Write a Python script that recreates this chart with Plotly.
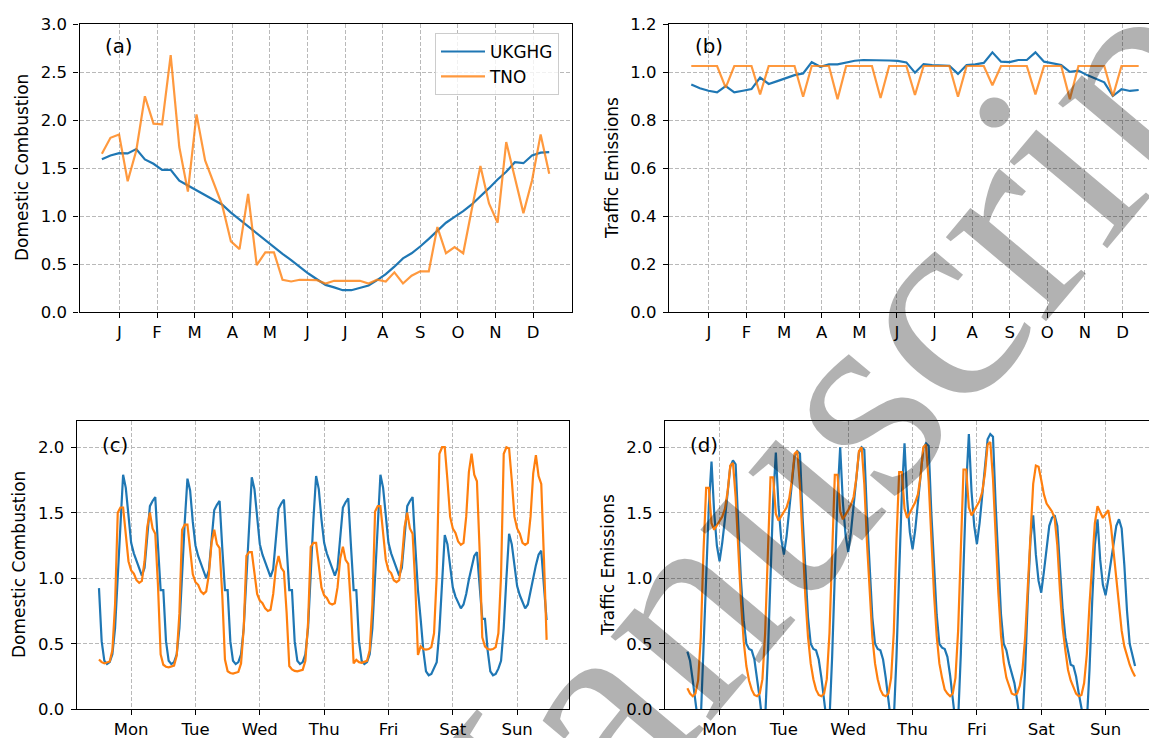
import plotly.graph_objects as go

# ---------------- weekly data (panels a, b) ----------------
week_days = list(range(0, 365, 7))          # 53 weekly samples (day of year)
month_labels = ["J", "F", "M", "A", "M", "J", "J", "A", "S", "O", "N", "D"]
month_ticks = [14.3 + 30.6 * k for k in range(12)]

dom_ukghg_weekly = [1.59, 1.63, 1.655, 1.652, 1.697, 1.59, 1.544, 1.481, 1.481, 1.369, 1.317, 1.265, 1.213,
                    1.167, 1.118, 1.035, 0.962, 0.889, 0.819, 0.749, 0.676, 0.606, 0.540, 0.467, 0.401, 0.341,
                    0.282, 0.256, 0.227, 0.227, 0.255, 0.276, 0.332, 0.395, 0.472, 0.559, 0.612, 0.682, 0.762,
                    0.85, 0.93, 0.99, 1.05, 1.12, 1.20, 1.29, 1.38, 1.46, 1.56, 1.55, 1.63, 1.66, 1.665]
dom_tno_weekly = [1.648, 1.815, 1.85, 1.362, 1.683, 2.247, 1.962, 1.955, 2.676, 1.718, 1.254, 2.059, 1.578,
                  1.334, 1.108, 0.735, 0.655, 1.23, 0.488, 0.622, 0.622, 0.336, 0.318, 0.336, 0.332, 0.332,
                  0.297, 0.325, 0.325, 0.325, 0.325, 0.297, 0.336, 0.318, 0.413, 0.297, 0.378, 0.423, 0.423,
                  0.885, 0.612, 0.675, 0.612, 1.07, 1.52, 1.13, 0.93, 1.77, 1.41, 1.03, 1.37, 1.85, 1.44]
traf_ukghg_weekly = [0.948, 0.932, 0.922, 0.915, 0.941, 0.915, 0.922, 0.929, 0.977, 0.950, 0.962, 0.975, 0.987,
                     0.994, 1.041, 1.022, 1.032, 1.032, 1.041, 1.047, 1.050, 1.050, 1.049, 1.048, 1.046, 1.040,
                     0.997, 1.033, 1.029, 1.026, 1.026, 0.992, 1.029, 1.032, 1.038, 1.082, 1.043, 1.041, 1.050,
                     1.050, 1.082, 1.043, 1.036, 1.029, 1.001, 1.006, 0.987, 0.971, 0.957, 0.900, 0.928, 0.921,
                     0.925]
traf_tno_weekly = [1.025, 1.025, 1.025, 1.025, 0.935, 1.025, 1.025, 1.025, 0.907, 1.025, 1.025, 1.025, 1.025,
                   0.897, 1.025, 1.025, 1.025, 0.887, 1.025, 1.025, 1.025, 1.025, 0.892, 1.025, 1.025, 1.025,
                   0.904, 1.025, 1.025, 1.025, 1.025, 0.897, 1.025, 1.025, 1.025, 0.945, 1.025, 1.025, 1.025,
                   1.025, 0.907, 1.025, 1.025, 1.025, 0.887, 1.025, 1.025, 1.025, 1.025, 0.899, 1.025, 1.025,
                   1.025]

# ---------------- hourly data (panels c, d) ----------------
hours = list(range(168))
day_labels = ["Mon", "Tue", "Wed", "Thu", "Fri", "Sat", "Sun"]
day_ticks = [12, 36, 60, 84, 108, 132, 156]

dom_ukghg_mon = [0.925, 0.52, 0.37, 0.345, 0.36, 0.42, 0.62, 1.05, 1.45, 1.79, 1.69, 1.45, 1.27, 1.19, 1.13, 1.07, 1.02, 1.08, 1.29, 1.55, 1.59, 1.62, 1.25, 0.91]
dom_ukghg_tue = [0.91, 0.52, 0.37, 0.345, 0.36, 0.42, 0.62, 1.04, 1.43, 1.76, 1.67, 1.43, 1.25, 1.17, 1.11, 1.05, 1.00, 1.06, 1.27, 1.52, 1.56, 1.59, 1.23, 0.91]
dom_ukghg_wed = [0.91, 0.52, 0.37, 0.345, 0.36, 0.42, 0.62, 1.04, 1.44, 1.77, 1.68, 1.44, 1.26, 1.18, 1.12, 1.06, 1.01, 1.07, 1.28, 1.53, 1.57, 1.60, 1.24, 0.91]
dom_ukghg_thu = [0.91, 0.52, 0.37, 0.345, 0.36, 0.42, 0.62, 1.05, 1.45, 1.78, 1.68, 1.45, 1.27, 1.19, 1.13, 1.07, 1.02, 1.08, 1.29, 1.54, 1.58, 1.61, 1.25, 0.91]
dom_ukghg_fri = [0.91, 0.52, 0.37, 0.345, 0.36, 0.42, 0.62, 1.05, 1.45, 1.79, 1.69, 1.45, 1.27, 1.19, 1.13, 1.07, 1.02, 1.08, 1.29, 1.55, 1.59, 1.62, 1.25, 0.91]
dom_ukghg_sat = [0.69, 0.45, 0.29, 0.26, 0.27, 0.31, 0.36, 0.60, 1.00, 1.33, 1.26, 1.09, 0.93, 0.86, 0.81, 0.77, 0.80, 0.88, 0.99, 1.09, 1.17, 1.20, 0.95, 0.69]
dom_ukghg_sun = [0.69, 0.45, 0.29, 0.26, 0.27, 0.31, 0.37, 0.62, 1.00, 1.34, 1.26, 1.09, 0.94, 0.87, 0.82, 0.77, 0.80, 0.90, 1.01, 1.10, 1.18, 1.21, 0.94, 0.68]

dom_tno_mon = [0.38, 0.36, 0.35, 0.355, 0.365, 0.45, 0.80, 1.50, 1.54, 1.54, 1.35, 1.13, 1.06, 1.035, 0.985, 0.965, 0.98, 1.13, 1.39, 1.50, 1.38, 1.34, 0.95, 0.42]
dom_tno_tue = [0.34, 0.325, 0.32, 0.325, 0.334, 0.41, 0.73, 1.37, 1.41, 1.41, 1.24, 1.03, 0.97, 0.95, 0.90, 0.88, 0.90, 1.03, 1.27, 1.37, 1.26, 1.23, 0.87, 0.38]
dom_tno_wed = [0.29, 0.277, 0.273, 0.277, 0.285, 0.35, 0.62, 1.17, 1.20, 1.20, 1.05, 0.88, 0.83, 0.81, 0.77, 0.75, 0.76, 0.88, 1.08, 1.17, 1.08, 1.05, 0.74, 0.33]
dom_tno_thu = [0.305, 0.293, 0.289, 0.293, 0.301, 0.37, 0.66, 1.24, 1.27, 1.27, 1.11, 0.93, 0.87, 0.85, 0.81, 0.80, 0.81, 0.93, 1.15, 1.24, 1.14, 1.11, 0.78, 0.35]
dom_tno_fri = [0.377, 0.36, 0.355, 0.36, 0.37, 0.45, 0.80, 1.51, 1.55, 1.55, 1.36, 1.14, 1.06, 1.04, 0.985, 0.97, 0.985, 1.14, 1.39, 1.50, 1.38, 1.34, 0.95, 0.415]
dom_tno_sat = [0.48, 0.46, 0.455, 0.46, 0.475, 0.58, 1.02, 1.95, 2.00, 2.00, 1.75, 1.47, 1.38, 1.345, 1.28, 1.255, 1.27, 1.47, 1.81, 1.95, 1.79, 1.74, 1.22, 0.55]
dom_tno_sun = [0.48, 0.46, 0.455, 0.46, 0.475, 0.58, 1.02, 1.95, 2.00, 1.99, 1.75, 1.47, 1.38, 1.34, 1.27, 1.255, 1.27, 1.47, 1.80, 1.94, 1.78, 1.72, 1.15, 0.53]

traf_ukghg_mon = [0.44, 0.37, 0.22, 0.06, -0.10, -0.08, 0.40, 1.00, 1.55, 1.89, 1.50, 1.25, 1.13, 1.27, 1.45, 1.68, 1.85, 1.90, 1.87, 1.40, 0.98, 0.68, 0.50, 0.46]
traf_ukghg_tue = [0.45, 0.38, 0.24, 0.08, -0.10, -0.08, 0.40, 1.02, 1.60, 1.96, 1.55, 1.30, 1.18, 1.32, 1.52, 1.75, 1.93, 1.97, 1.95, 1.46, 1.02, 0.70, 0.50, 0.46]
traf_ukghg_wed = [0.45, 0.38, 0.24, 0.08, -0.10, -0.08, 0.40, 1.03, 1.62, 2.00, 1.58, 1.33, 1.20, 1.35, 1.55, 1.78, 1.96, 2.00, 1.98, 1.48, 1.03, 0.70, 0.50, 0.46]
traf_ukghg_thu = [0.45, 0.38, 0.24, 0.08, -0.10, -0.08, 0.40, 1.04, 1.64, 2.03, 1.60, 1.35, 1.22, 1.37, 1.57, 1.80, 1.99, 2.03, 2.01, 1.50, 1.05, 0.72, 0.50, 0.47]
traf_ukghg_fri = [0.46, 0.40, 0.26, 0.10, -0.10, -0.08, 0.42, 1.08, 1.70, 2.10, 1.66, 1.40, 1.26, 1.42, 1.63, 1.87, 2.06, 2.10, 2.08, 1.56, 1.08, 0.72, 0.50, 0.45]
traf_ukghg_sat = [0.35, 0.28, 0.20, 0.07, -0.08, -0.10, 0.30, 0.85, 1.30, 1.48, 1.18, 0.98, 0.89, 1.05, 1.25, 1.40, 1.46, 1.48, 1.40, 1.10, 0.76, 0.55, 0.45, 0.34]
traf_ukghg_sun = [0.33, 0.25, 0.12, 0.00, -0.10, -0.10, 0.30, 0.82, 1.25, 1.45, 1.14, 0.95, 0.87, 0.99, 1.12, 1.25, 1.40, 1.45, 1.38, 1.10, 0.75, 0.50, 0.42, 0.33]

traf_tno_mon = [0.16, 0.12, 0.10, 0.12, 0.22, 0.55, 1.20, 1.69, 1.69, 1.42, 1.37, 1.40, 1.43, 1.47, 1.53, 1.66, 1.86, 1.88, 1.62, 1.20, 0.82, 0.52, 0.33, 0.22]
traf_tno_tue = [0.15, 0.11, 0.10, 0.12, 0.23, 0.58, 1.26, 1.77, 1.77, 1.49, 1.44, 1.47, 1.50, 1.54, 1.61, 1.75, 1.95, 1.97, 1.70, 1.26, 0.86, 0.55, 0.35, 0.23]
traf_tno_wed = [0.15, 0.11, 0.10, 0.12, 0.23, 0.58, 1.27, 1.79, 1.79, 1.51, 1.45, 1.48, 1.52, 1.56, 1.62, 1.76, 1.97, 2.00, 1.72, 1.27, 0.87, 0.55, 0.35, 0.23]
traf_tno_thu = [0.15, 0.11, 0.10, 0.12, 0.24, 0.59, 1.29, 1.81, 1.81, 1.53, 1.46, 1.50, 1.54, 1.58, 1.64, 1.78, 2.00, 2.02, 1.74, 1.29, 0.88, 0.56, 0.35, 0.24]
traf_tno_fri = [0.15, 0.12, 0.10, 0.12, 0.24, 0.60, 1.30, 1.83, 1.83, 1.54, 1.48, 1.52, 1.55, 1.59, 1.66, 1.80, 2.02, 2.04, 1.76, 1.30, 0.89, 0.56, 0.36, 0.24]
traf_tno_sat = [0.17, 0.12, 0.11, 0.12, 0.18, 0.30, 0.55, 0.95, 1.40, 1.72, 1.86, 1.85, 1.75, 1.64, 1.57, 1.54, 1.51, 1.46, 1.25, 0.90, 0.62, 0.45, 0.30, 0.22]
traf_tno_sun = [0.17, 0.12, 0.10, 0.11, 0.20, 0.42, 0.80, 1.15, 1.42, 1.55, 1.50, 1.46, 1.49, 1.52, 1.40, 1.20, 0.98, 0.78, 0.60, 0.48, 0.40, 0.34, 0.29, 0.25]

dom_ukghg_hourly = (dom_ukghg_mon + dom_ukghg_tue + dom_ukghg_wed + dom_ukghg_thu + dom_ukghg_fri
                    + dom_ukghg_sat + dom_ukghg_sun)
dom_tno_hourly = (dom_tno_mon + dom_tno_tue + dom_tno_wed + dom_tno_thu + dom_tno_fri
                  + dom_tno_sat + dom_tno_sun)
traf_ukghg_hourly = (traf_ukghg_mon + traf_ukghg_tue + traf_ukghg_wed + traf_ukghg_thu + traf_ukghg_fri
                     + traf_ukghg_sat + traf_ukghg_sun)
traf_tno_hourly = (traf_tno_mon + traf_tno_tue + traf_tno_wed + traf_tno_thu + traf_tno_fri
                   + traf_tno_sat + traf_tno_sun)

# ---------------- styling ----------------
W, H = 1149, 738
BLUE = "#1f77b4"
ORANGE = "#ff7f0e"
ORANGE_A = "rgba(255,127,14,0.8)"
FONT = "DejaVu Sans"
FS = 16.5


def px_x(p):
    return p / W


def px_y(p):
    return 1 - p / H


fig = go.Figure()


def add_line(x, y, color, name, xa, ya, show):
    fig.add_trace(go.Scatter(x=x, y=y, mode="lines", name=name, legendgroup=name,
                             line=dict(color=color, width=2.2), xaxis=xa, yaxis=ya,
                             showlegend=show, hoverinfo="skip"))


add_line(week_days, dom_ukghg_weekly, BLUE, "UKGHG", "x", "y", True)
add_line(week_days, dom_tno_weekly, ORANGE_A, "TNO", "x", "y", True)
add_line(week_days, traf_ukghg_weekly, BLUE, "UKGHG", "x2", "y2", False)
add_line(week_days, traf_tno_weekly, ORANGE_A, "TNO", "x2", "y2", False)
add_line(hours, dom_ukghg_hourly, BLUE, "UKGHG", "x3", "y3", False)
add_line(hours, dom_tno_hourly, ORANGE, "TNO", "x3", "y3", False)
add_line(hours, traf_ukghg_hourly, BLUE, "UKGHG", "x4", "y4", False)
add_line(hours, traf_tno_hourly, ORANGE, "TNO", "x4", "y4", False)

base_axis = dict(showline=True, linecolor="black", linewidth=1.2, ticks="outside", ticklen=5,
                 tickwidth=1.2, tickcolor="black", showgrid=True, gridcolor="#b9b9b9",
                 griddash="4px,2px", gridwidth=1, zeroline=False, automargin=False,
                 tickfont=dict(family=FONT, size=FS, color="black"))
xa = dict(base_axis, ticklabelstandoff=0)
ya = dict(base_axis, ticklabelstandoff=3)

top_dom = [px_y(312), px_y(24)]
bot_dom = [px_y(709.3), px_y(421)]

fig.update_layout(
    width=W, height=H, margin=dict(l=0, r=0, t=0, b=0, autoexpand=False),
    paper_bgcolor="white", plot_bgcolor="white",
    xaxis=dict(xa, domain=[px_x(79.5), px_x(571.6)], range=[-18.2, 382.2], anchor="y",
               tickvals=month_ticks, ticktext=month_labels, mirror=True),
    yaxis=dict(ya, domain=top_dom, range=[0, 3], dtick=0.5, tickformat=".1f",
               anchor="x", mirror=True),
    xaxis2=dict(xa, domain=[px_x(668.9), 1.0], range=[-18.2, 372.4], anchor="y2",
                tickvals=month_ticks, ticktext=month_labels, mirror=True),
    yaxis2=dict(ya, domain=top_dom, range=[0, 1.2], dtick=0.2, tickformat=".1f",
                anchor="x2", mirror=False),
    xaxis3=dict(xa, domain=[px_x(76.6), px_x(569)], range=[-8.35, 175.35], anchor="y3",
                tickvals=day_ticks, ticktext=day_labels, mirror=True),
    yaxis3=dict(ya, domain=bot_dom, range=[0, 2.2], tickvals=[0, 0.5, 1.0, 1.5, 2.0],
                tickformat=".1f", anchor="x3", mirror=True),
    xaxis4=dict(xa, domain=[px_x(665), 1.0], range=[-8.35, 172.2], anchor="y4",
                tickvals=day_ticks, ticktext=day_labels, mirror=True),
    yaxis4=dict(ya, domain=bot_dom, range=[0, 2.2], tickvals=[0, 0.5, 1.0, 1.5, 2.0],
                tickformat=".1f", anchor="x4", mirror=False),
    legend=dict(x=px_x(435), y=px_y(33), xanchor="left", yanchor="top",
                bgcolor="rgba(255,255,255,0.8)", bordercolor="#cccccc", borderwidth=1,
                font=dict(family=FONT, size=16.9, color="black"), tracegroupgap=0, itemwidth=44),
)

annotations = []
# y-axis titles
for text, xc, yc in [("Domestic Combustion", 22, 168), ("Traffic Emissions", 612, 168),
                     ("Domestic Combustion", 19, 565), ("Traffic Emissions", 608, 565)]:
    annotations.append(dict(text=text, x=px_x(xc), y=px_y(yc), xref="paper", yref="paper",
                            showarrow=False, textangle=-90, xanchor="center", yanchor="middle",
                            font=dict(family=FONT, size=17, color="black")))
# panel labels
for text, xl, yc in [("(a)", 103, 47), ("(b)", 692.5, 47), ("(c)", 100, 445), ("(d)", 688, 445)]:
    annotations.append(dict(text=text, x=px_x(xl), y=px_y(yc), xref="paper", yref="paper",
                            showarrow=False, xanchor="left", yanchor="middle",
                            font=dict(family=FONT, size=19.8, color="black")))
# watermark
annotations.append(dict(text="Manuscript", x=px_x(806), y=px_y(458), xref="paper", yref="paper",
                        showarrow=False, textangle=-50, xanchor="center", yanchor="middle",
                        font=dict(family="Liberation Serif", size=285, color="rgba(0,0,0,0.3)")))
fig.update_layout(annotations=annotations)

fig.write_html("out.html", config={"displayModeBar": False},
               post_script="document.body.style.margin='0px';document.body.style.overflow='hidden';")
